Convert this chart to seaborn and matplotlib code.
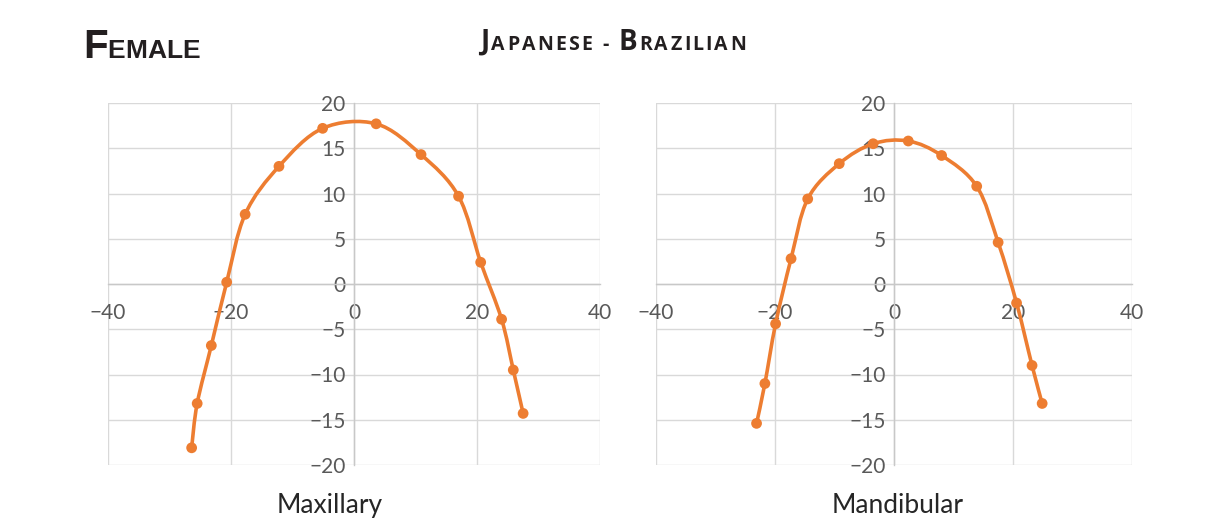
import numpy as np
import pandas as pd
import matplotlib
matplotlib.use("Agg")
import matplotlib.pyplot as plt
from matplotlib.path import Path
from matplotlib.patches import PathPatch
import seaborn as sns

# Female, Japanese - Brazilian arch form points
max_x = [-26.4, -25.5, -23.2, -20.7, -17.7, -12.2, -5.1, 3.6, 10.9, 17.0, 20.6, 24.0, 25.9, 27.5]
max_y = [-18.1, -13.2, -6.8, 0.2, 7.7, 13.0, 17.2, 17.7, 14.3, 9.7, 2.4, -3.9, -9.5, -14.3]

man_x = [-23.1, -21.7, -19.9, -17.3, -14.5, -9.2, -3.5, 2.4, 8.0, 13.9, 17.5, 20.6, 23.2, 24.9]
man_y = [-15.4, -11.0, -4.4, 2.8, 9.4, 13.3, 15.5, 15.8, 14.2, 10.8, 4.6, -2.1, -9.0, -13.2]

panel_labels = ["Maxillary", "Mandibular"]
x_ticks = [-40, -20, 0, 20, 40]
y_ticks = [-20, -15, -10, -5, 0, 5, 10, 15, 20]

ORANGE = "#ED7D31"
GRID = "#d9d9d9"
TICK_TXT = "#595959"

sns.set_style("white")
plt.rcParams["font.family"] = ["Lato", "DejaVu Sans"]


def smooth_path(xs, ys):
    # excel-style smoothed line: bezier segments through the points
    pts = np.column_stack([xs, ys])
    n = len(pts)
    verts = [pts[0]]
    codes = [Path.MOVETO]
    for i in range(n - 1):
        p0 = pts[max(i - 1, 0)]
        p1 = pts[i]
        p2 = pts[i + 1]
        p3 = pts[min(i + 2, n - 1)]
        verts += [p1 + (p2 - p0) / 6, p2 - (p3 - p1) / 6, p2]
        codes += [Path.CURVE4] * 3
    return Path(verts, codes)


def draw_panel(ax, xs, ys):
    df = pd.DataFrame({"x": xs, "y": ys})
    ax.add_patch(PathPatch(smooth_path(xs, ys), fill=False, edgecolor=ORANGE,
                           lw=2.6, capstyle="round", joinstyle="round", zorder=3))
    sns.scatterplot(data=df, x="x", y="y", ax=ax, color=ORANGE, s=60,
                    edgecolor="none", zorder=4)
    ax.set_xlim(-40, 40)
    ax.set_ylim(-20, 20)
    ax.set_xticks(x_ticks)
    ax.set_yticks(y_ticks)
    ax.grid(True, color=GRID, lw=1)
    for s in ["top", "right"]:
        ax.spines[s].set_visible(False)
    ax.spines["left"].set_position("zero")
    ax.spines["bottom"].set_position("zero")
    for s in ["left", "bottom"]:
        ax.spines[s].set_color("#c8c8c8")
        ax.spines[s].set_linewidth(1)
    ax.tick_params(length=0, labelsize=15, labelcolor=TICK_TXT)
    ax.tick_params(axis="x", pad=14)
    ax.tick_params(axis="y", pad=6)
    ax.set_xlabel("")
    ax.set_ylabel("")


def small_caps(fig, x, y, parts, family, track=0.0):
    # place letters one by one so big/small caps and letter spacing can be set
    r = fig.canvas.get_renderer()
    for txt, size in parts:
        for ch in txt:
            t = fig.text(x, y, ch, fontsize=size, fontweight="bold", family=family,
                         va="baseline", ha="left", color="#231f20")
            if ch == " ":
                w = size * 0.28 * 100 / 72
            else:
                w = t.get_window_extent(renderer=r).width
            x += (w + track) / fig.bbox.width


fig = plt.figure(figsize=(12.1, 5.27), dpi=100)
ax1 = fig.add_axes([108 / 1210, 62 / 527, 492 / 1210, 362 / 527])
ax2 = fig.add_axes([656 / 1210, 62 / 527, 476 / 1210, 362 / 527])

draw_panel(ax1, max_x, max_y)
draw_panel(ax2, man_x, man_y)

fig.text(330 / 1210, 1 - 513 / 527, panel_labels[0], ha="center", va="baseline",
         fontsize=19, color="#262626")
fig.text(898 / 1210, 1 - 513 / 527, panel_labels[1], ha="center", va="baseline",
         fontsize=19, color="#262626")

small_caps(fig, 83 / 1210, 1 - 58 / 527, [("F", 29), ("EMALE", 19)],
           ["Liberation Sans", "DejaVu Sans"])
small_caps(fig, 480 / 1210, 1 - 50 / 527,
           [("J", 20), ("APANESE - ", 14), ("B", 20), ("RAZILIAN", 14)],
           ["Open Sans", "DejaVu Sans"], track=2.2)

fig.savefig("out.png", dpi=100)
